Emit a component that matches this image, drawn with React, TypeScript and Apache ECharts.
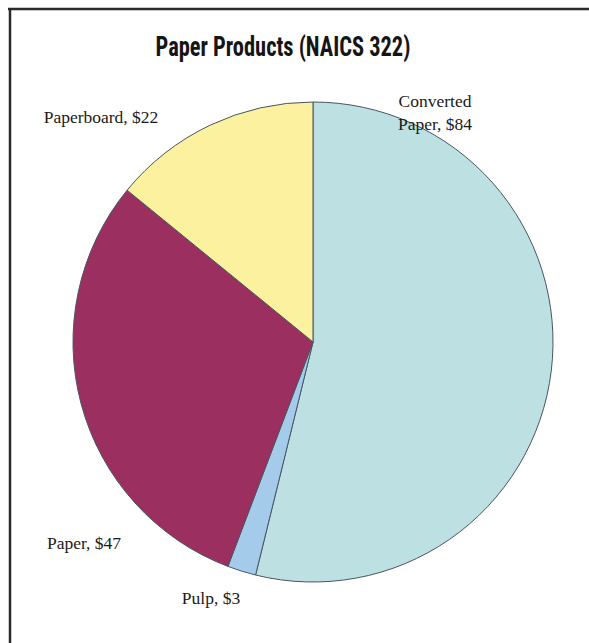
import React, { useEffect, useRef } from "react";
import * as echarts from "echarts";

const titleText = "Paper Products (NAICS 322)";
const categories = ["Converted\nPaper", "Pulp", "Paper", "Paperboard"];
const values = [84, 3, 47, 22];
const colors = ["#bde0e3", "#a4cbea", "#9b2f60", "#fbf19e"];
const labelPos: [number, number][] = [
  [435, 112],
  [211, 598],
  [84, 543],
  [101, 117],
];

export default function App() {
  const ref = useRef<HTMLDivElement>(null);
  useEffect(() => {
    if (!ref.current) return;
    const chart = echarts.init(ref.current, null, { renderer: "svg" });
    chart.setOption({
      animation: false,
      backgroundColor: "#ffffff",
      graphic: [
        {
          type: "text",
          x: 283,
          y: 47,
          scaleX: 0.83,
          style: {
            text: titleText,
            fontFamily: "'Liberation Sans Narrow', 'Roboto Condensed', 'Arial Narrow', Roboto, sans-serif",
            fontWeight: "bold",
            fontSize: 27,
            fill: "#151515",
            align: "center",
            verticalAlign: "middle",
          },
        },
        { type: "line", shape: { x1: 8, y1: 9, x2: 589, y2: 9 }, style: { stroke: "#2a2a2a", lineWidth: 2.5 } },
        { type: "line", shape: { x1: 10, y1: 8, x2: 10, y2: 643 }, style: { stroke: "#2a2a2a", lineWidth: 2.5 } },
      ],
      series: [
        {
          type: "pie",
          center: [313, 342],
          radius: [0, 240],
          startAngle: 90,
          clockwise: true,
          avoidLabelOverlap: false,
          data: categories.map((name, i) => ({
            name,
            value: values[i],
            itemStyle: { color: colors[i] },
          })),
          itemStyle: { borderColor: "#4a5560", borderWidth: 1 },
          label: {
            show: true,
            formatter: (p: any) => `${p.name}, $${p.value}`,
            fontFamily: "'Liberation Serif', 'DejaVu Serif', serif",
            fontSize: 17.5,
            color: "#1a1a1a",
            lineHeight: 23,
            align: "center",
          },
          labelLine: { show: false },
          labelLayout: (params: any) => {
            const pos = labelPos[params.dataIndex];
            return { x: pos[0], y: pos[1], align: "center", verticalAlign: "middle" };
          },
          emphasis: { disabled: true },
        },
      ],
    });
    return () => chart.dispose();
  }, []);
  return (
    <div
      ref={ref}
      style={{ position: "absolute", left: 0, top: 0, width: 589, height: 643 }}
    />
  );
}
